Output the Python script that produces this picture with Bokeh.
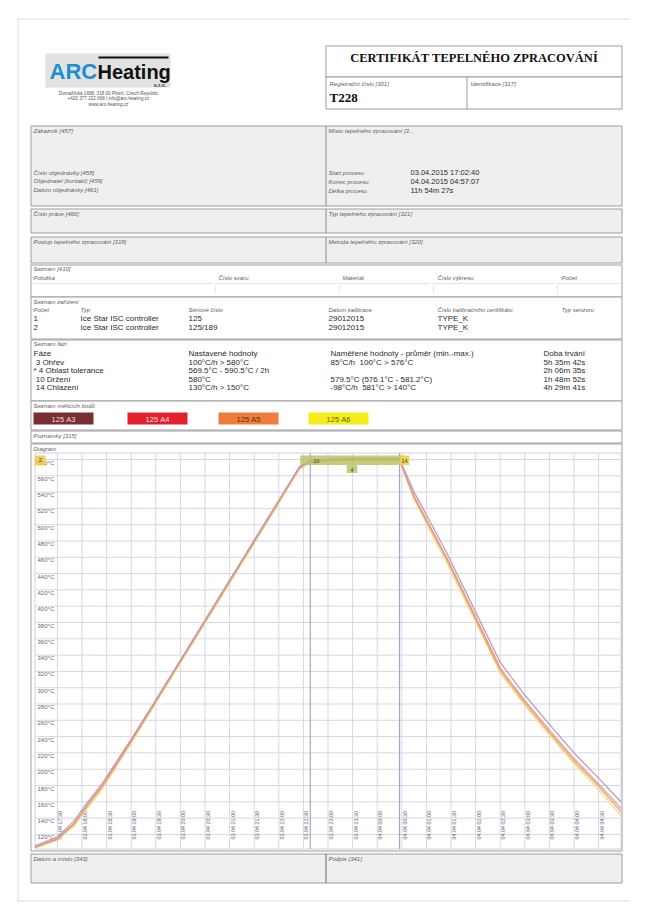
import re
import numpy as np
import pandas as pd
from bokeh.plotting import figure
from bokeh.models import Range1d
from bokeh.core.properties import value
from bokeh.embed import file_html
from bokeh.resources import INLINE

# ---------------- chart data ----------------
PROCESS_START = "03.04 17:02:40"
PROCESS_END = "04.04 04:57:07"
PHASE4_START = "03.04 22:26:00"

sample_times = ["03.04 17:02:40", "03.04 17:30:00", "03.04 17:50:00", "03.04 18:05:00",
                "03.04 18:25:00", "03.04 19:00:00", "03.04 19:30:00", "03.04 20:00:00",
                "03.04 20:30:00", "03.04 21:00:00", "03.04 21:30:00", "03.04 22:00:00",
                "03.04 22:25:00", "03.04 22:38:00", "03.04 23:00:00", "03.04 23:30:00",
                "04.04 00:00:00", "04.04 00:27:00", "04.04 00:45:00", "04.04 01:05:00",
                "04.04 01:25:00", "04.04 02:00:00", "04.04 02:30:00", "04.04 03:00:00",
                "04.04 03:30:00", "04.04 04:00:00", "04.04 04:30:00", "04.04 04:57:07"]
temp_a3 = [106, 117, 136, 157, 183, 237, 285, 334, 383, 432, 481, 530, 571, 578,
           580, 581, 581, 581, 540, 503, 465, 393, 331, 291, 255, 220, 189, 160]
temp_a4 = [104, 115, 133, 154, 180, 235, 284, 333, 382, 431, 480, 529, 570, 577,
           579, 580, 580, 580, 535, 497, 459, 387, 324, 284, 248, 213, 182, 152]
temp_a5 = [104, 114, 132, 153, 179, 234, 283, 332, 381, 430, 479, 528, 569, 577,
           579, 580, 580, 580, 533, 495, 457, 384, 321, 281, 245, 210, 179, 148]
temp_a6 = [103, 113, 130, 150, 176, 232, 281, 330, 379, 428, 477, 526, 568, 576,
           579, 580, 580, 579, 531, 492, 453, 381, 318, 278, 242, 207, 175, 143]
series_names = ["125 A3", "125 A4", "125 A5", "125 A6"]
series_colors = ["#7a2e32", "#e3202b", "#f07c3c", "#f4ee1c"]
line_colors = ["#c49ab6", "#e39a8a", "#eda070", "#f2e07a"]

y_ticks = [120, 140, 160, 180, 200, 220, 240, 260, 280, 300, 320, 340,
           360, 380, 400, 420, 440, 460, 480, 500, 520, 540, 560, 580]
x_tick_labels = ["03.04 17:30", "03.04 18:00", "03.04 18:30", "03.04 19:00", "03.04 19:30",
                 "03.04 20:00", "03.04 20:30", "03.04 21:00", "03.04 21:30", "03.04 22:00",
                 "03.04 22:30", "03.04 23:00", "03.04 23:30", "04.04 00:00", "04.04 00:30",
                 "04.04 01:00", "04.04 01:30", "04.04 02:00", "04.04 02:30", "04.04 03:00",
                 "04.04 03:30", "04.04 04:00", "04.04 04:30"]

# ---------------- document texts ----------------
process_labels = ["Start procesu", "Konec procesu", "Délka procesu"]
process_values = ["03.04.2015 17:02:40", "04.04.2015 04:57:07", "11h 54m 27s"]
order_labels = ["Číslo objednávky [458]", "Objednatel (kontakt) [459]", "Datum objednávky [461]"]
address_lines = ["Domažlická 1688, 318 00 Plzeň, Czech Republic",
                 "+420 377 222 068 | info@arc-heating.cz", "www.arc-heating.cz"]
list_headers = ["Položka", "Číslo svaru", "Materiál", "Číslo výkresu", "Počet"]
device_headers = ["Počet", "Typ", "Sériové číslo", "Datum kalibrace",
                  "Číslo kalibračního certifikátu", "Typ senzoru"]
device_rows = [["1", "Ice Star ISC controller", "125", "29012015", "TYPE_K"],
               ["2", "Ice Star ISC controller", "125/189", "29012015", "TYPE_K"]]
phase_headers = ["Fáze", "Nastavené hodnoty", "Naměřené hodnoty - průměr (min.-max.)", "Doba trvání"]
phase_rows = [[" 3 Ohřev", "100°C/h > 580°C", "85°C/h  100°C > 576°C", "5h 35m 42s"],
              ["* 4 Oblast tolerance", "569.5°C - 590.5°C / 2h", "", "2h 06m 35s"],
              [" 10 Držení", "580°C", "579.5°C (576.1°C - 581.2°C)", "1h 48m 52s"],
              [" 14 Chlazení", "130°C/h > 150°C", "-98°C/h  581°C > 140°C", "4h 29m 41s"]]


def to_ts(s):
    if s.count(":") == 1:
        s = s + ":00"
    return pd.to_datetime("2015." + s, format="%Y.%d.%m %H:%M:%S")


def parse_dur(s):
    h, m, sec = re.findall(r"(\d+)h\s*(\d+)m\s*(\d+)s", s)[0]
    return pd.Timedelta(hours=int(h), minutes=int(m), seconds=int(sec))


t_start = to_ts(PROCESS_START)
t_end = to_ts(PROCESS_END)


def mins(ts):
    return (ts - t_start).total_seconds() / 60.0


sample_min = [mins(to_ts(s)) for s in sample_times]
tick_min = [mins(to_ts(s)) for s in x_tick_labels]
end_min = mins(t_end)
phase10_min = mins(t_start + parse_dur(phase_rows[0][3]))
phase14_min = phase10_min + parse_dur(phase_rows[2][3]).total_seconds() / 60.0
phase4_min = mins(to_ts(PHASE4_START))
phase4_end = phase4_min + parse_dur(phase_rows[1][3]).total_seconds() / 60.0

# ---------------- figure (page pixel coordinates) ----------------
W, H = 630, 902
p = figure(width=W, height=H, output_backend="svg", toolbar_location=None,
           x_range=Range1d(0, W), y_range=Range1d(H, 0),
           min_border=0, outline_line_color=None)
p.axis.visible = False
p.grid.visible = False
p.background_fill_color = "white"
p.border_fill_color = "white"

# chart placement (pixels)
X0_PX = 34.5        # pixel x of process start
PX_PER_MIN = 0.82
Y580_PX = 459.0     # pixel y of 580 °C
PX_PER_DEG = 0.815
PLOT_L, PLOT_R, PLOT_T, PLOT_B = 34.5, 620.5, 452.5, 848.5

p.extra_x_ranges = {"time": Range1d((0 - X0_PX) / PX_PER_MIN, (W - X0_PX) / PX_PER_MIN)}
p.extra_y_ranges = {"temp": Range1d(580 - (H - Y580_PX) / PX_PER_DEG,
                                    580 + (Y580_PX - 0) / PX_PER_DEG)}

SANS = "Liberation Sans"
SERIF = "Liberation Serif"
LBL = "#5e5e5e"
VAL = "#2a2a2a"


def txt(x, y, s, size=6.0, style="italic", color=LBL, font=SANS, align="left",
        baseline="middle", angle=0.0, xr="default", yr="default", xo=0, yo=0):
    n = max(len(v) if isinstance(v, list) else 1 for v in (x, y, s))
    xs = x if isinstance(x, list) else [x] * n
    ys = y if isinstance(y, list) else [y] * n
    ss = s if isinstance(s, list) else [s] * n
    ss = [t.replace(" ", "\u00a0") for t in ss]
    p.text(x=xs, y=ys, text=ss, text_font=value(font), text_font_size=f"{size}px",
           text_font_style=style, text_color=color, text_align=align,
           text_baseline=baseline, angle=angle, x_range_name=xr, y_range_name=yr,
           x_offset=xo, y_offset=yo)


def box(l, t, r, b, fill="white", line="#9c9c9c", lw=1):
    p.quad(left=l, right=r, top=t, bottom=b, fill_color=fill, line_color=line, line_width=lw)


GRAY = "#efefef"

# page border
box(17.5, 18.5, 632.5, 900.5, fill=None, line="#dcdcdc")

# ---- logo ----
box(45, 53, 170, 87, fill="#e2e2e2", line=None)
p.quad(left=98, right=168, top=56, bottom=58, fill_color="#111111", line_color=None)
txt(49, 71, "ARC", size=22, style="bold", color="#1e8fd2", align="left")
txt(97, 71, "Heating", size=20, style="bold", color="#111111", align="left")
txt(166, 84, "s.r.o.", size=5.5, style="bold", color="#333333", align="right")
txt(108, [92.5, 98, 103.5], address_lines, size=4.6, style="normal", color="#555555",
    align="center")

# ---- title block ----
box(325.5, 45.5, 621.5, 76.5)
box(325.5, 76.5, 621.5, 108.5)
p.segment(x0=[466.5], y0=[76.5], x1=[466.5], y1=[108.5], line_color="#9c9c9c")
txt(473.5, 57, "CERTIFIKÁT TEPELNÉHO ZPRACOVÁNÍ", size=12.5, style="bold",
    color="#111111", font=SERIF, align="center")
txt(329, 83, "Registrační číslo [301]")
txt(470, 83, "Identifikace [317]")
txt(329, 97, "T228", size=13, style="bold", color="#111111", font=SERIF)

# ---- customer block ----
box(30.5, 125.5, 621.5, 205.5, fill=GRAY)
p.segment(x0=[325.5], y0=[125.5], x1=[325.5], y1=[205.5], line_color="#8a8a8a")
txt(33, 130, "Zákazník [457]")
txt(33, [172, 180.5, 189], order_labels)
txt(328, 130, "Místo tepelného zpracování [3...")
txt(328, [172, 181, 190], process_labels)
txt(410, [172, 181, 190], process_values, size=7.5, style="normal", color=VAL)

box(30.5, 208.5, 621.5, 232.5, fill=GRAY)
p.segment(x0=[325.5], y0=[208.5], x1=[325.5], y1=[232.5], line_color="#8a8a8a")
txt(33, 213, "Číslo práce [460]")
txt(328, 213, "Typ tepelného zpracování [321]")

box(30.5, 236.5, 621.5, 262.5, fill=GRAY)
p.segment(x0=[325.5], y0=[236.5], x1=[325.5], y1=[262.5], line_color="#8a8a8a")
txt(33, 241, "Postup tepelného zpracování [318]")
txt(328, 241, "Metoda tepelného zpracování [320]")

# ---- Seznam [410] ----
box(30.5, 264.5, 621.5, 296.5)
txt(33, 268.5, "Seznam [410]")
list_x = [33, 218, 342, 437, 561]
txt(list_x, 277, list_headers)
p.segment(x0=[32, 215, 339, 433, 557], y0=283, x1=[212, 336, 430, 554, 619], y1=283,
          line_color="#e2e2e2")
p.segment(x0=[215, 339, 433, 557], y0=283, x1=[215, 339, 433, 557], y1=293,
          line_color="#e8e8e8")

# ---- Seznam zařízení ----
box(30.5, 296.5, 621.5, 338.5)
txt(33, 301, "Seznam zařízení")
dev_x = [33, 80, 188, 328, 437, 561]
txt(dev_x, 309.5, device_headers)
for row, yy in zip(device_rows, [318, 326.5]):
    txt(dev_x[:5], yy, row, size=8, style="normal", color=VAL)

# ---- Seznam fází ----
box(30.5, 339.5, 621.5, 400.5)
txt(33, 343.5, "Seznam fází")
ph_x = [33, 188, 330, 543]
txt(ph_x, 353, phase_headers, size=8, style="normal", color=VAL)
for row, yy in zip(phase_rows, [361.5, 370, 378.5, 387]):
    txt(ph_x, yy, row, size=8, style="normal", color=VAL)

# ---- Seznam měřicích bodů ----
box(30.5, 400.5, 621.5, 429.5)
txt(33, 405, "Seznam měřicích bodů")
leg_x = [33, 127, 218, 308]
leg_txt = ["#f3dede", "#fbe4e4", "#5a3010", "#6a6000"]
for lx, name, col, tc in zip(leg_x, series_names, series_colors, leg_txt):
    p.quad(left=lx, right=lx + 60, top=412, bottom=424, fill_color=col, line_color=None)
    txt(lx + 30, 418.5, name, size=7.5, style="normal", color=tc, align="center")

# ---- Poznámky ----
box(30.5, 430.5, 621.5, 442.5)
txt(33, 435, "Poznámky [315]")

# ---- Diagram ----
box(30.5, 443.5, 621.5, 850.5)
txt(33, 448, "Diagram")
box(PLOT_L, PLOT_T, PLOT_R, PLOT_B, fill="white", line="#cfcfe2")

GRID = "#d6d6ea"
p.segment(x0=tick_min, x1=tick_min, y0=PLOT_T, y1=PLOT_B, x_range_name="time",
          line_color=GRID, line_width=1)
p.segment(x0=PLOT_L, x1=PLOT_R, y0=y_ticks, y1=y_ticks, y_range_name="temp",
          line_color=GRID, line_width=1)
# phase boundaries
p.segment(x0=[phase10_min, phase14_min], x1=[phase10_min, phase14_min], y0=PLOT_T, y1=PLOT_B,
          x_range_name="time", line_color="#a6a6cc", line_width=1.2)

# tick labels
txt(37, y_ticks, [f"{t}°C" for t in y_ticks], size=6, style="normal", color="#6a6a6a",
    yr="temp", yo=3)
txt(tick_min, 839, x_tick_labels, size=5.4, style="normal", color="#6a6a6a",
    angle=np.pi / 2, xr="time", xo=3)

# temperature curves
for temps, col in zip([temp_a6, temp_a5, temp_a4, temp_a3], line_colors[::-1]):
    p.line(x=sample_min, y=temps, x_range_name="time", y_range_name="temp",
           line_color=col, line_width=1.3)

# phase markers
p.quad(left=[phase4_min], right=[phase4_end], top=455, bottom=464.5, x_range_name="time",
       fill_color="#b5c060", fill_alpha=0.8, line_color=None)
mid4 = (phase4_min + phase4_end) / 2
p.quad(left=[mid4 - 6.5], right=[mid4 + 6.5], top=464.5, bottom=472.5, x_range_name="time",
       fill_color="#b5c060", fill_alpha=0.8, line_color=None)
txt(mid4, 469, "4", size=5.5, style="normal", color="#444444", align="center", xr="time")
txt(phase10_min, 460, "10", size=5.5, style="normal", color="#444444", xr="time", xo=3)
p.quad(left=[phase14_min], right=[phase14_min + 12], top=455, bottom=464.5, x_range_name="time",
       fill_color="#efd24a", fill_alpha=0.9, line_color=None)
txt(phase14_min + 6, 460, "14", size=5.5, style="normal", color="#444444",
    align="center", xr="time")
p.quad(left=[0], right=[13], top=455, bottom=465, x_range_name="time",
       fill_color="#efcb48", fill_alpha=0.9, line_color=None)
txt(6.5, 459.5, "2", size=6, style="normal", color="#444444", align="center", xr="time")

# ---- footer ----
box(30.5, 853.5, 621.5, 882.5, fill=GRAY)
p.segment(x0=[325.5], y0=[853.5], x1=[325.5], y1=[882.5], line_color="#6a6a6a")
txt(33, 858, "Datum a místo [343]")
txt(328, 858, "Podpis [341]")

open("out.html", "w").write(file_html(p, INLINE))
